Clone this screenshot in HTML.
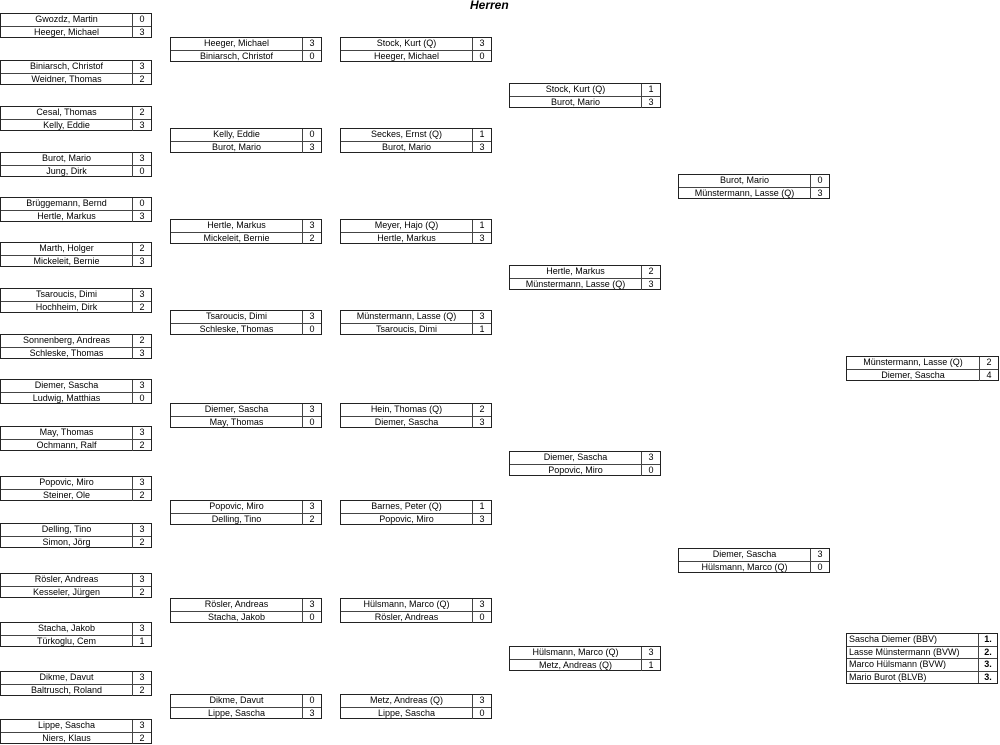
<!DOCTYPE html>
<html><head><meta charset="utf-8"><style>
body{margin:0;width:1000px;height:745px;background:#fff;position:relative;overflow:hidden;font-family:"Liberation Sans",Arial,sans-serif;font-size:9px;color:#000}
.b{position:absolute;border:1px solid #222;box-sizing:border-box;height:25px;background:#fff}
.r{height:11.5px;display:flex;line-height:11.5px}
.r+.r{border-top:1px solid #444}
.n{flex:1;text-align:center;border-right:1px solid #444;white-space:nowrap;overflow:hidden}
.s{width:18px;text-align:center}
.t{position:absolute;left:470px;top:-2px;font-weight:bold;font-style:italic;font-size:12px}
.f{position:absolute;left:846px;top:633px;width:152px;border:1px solid #222;box-sizing:border-box}
.f .n{text-align:left;padding-left:2px}
.f .s{font-weight:bold}
</style></head><body>
<div class="t">Herren</div>
<div id="c"></div>
<div class="f">
<div class="r"><div class="n">Sascha Diemer (BBV)</div><div class="s">1.</div></div>
<div class="r"><div class="n">Lasse Münstermann (BVW)</div><div class="s">2.</div></div>
<div class="r"><div class="n">Marco Hülsmann (BVW)</div><div class="s">3.</div></div>
<div class="r"><div class="n">Mario Burot (BLVB)</div><div class="s">3.</div></div>
</div>
<script>
const D=[
[0,13,"Gwozdz, Martin","0","Heeger, Michael","3"],
[0,60,"Biniarsch, Christof","3","Weidner, Thomas","2"],
[0,106,"Cesal, Thomas","2","Kelly, Eddie","3"],
[0,152,"Burot, Mario","3","Jung, Dirk","0"],
[0,197,"Brüggemann, Bernd","0","Hertle, Markus","3"],
[0,242,"Marth, Holger","2","Mickeleit, Bernie","3"],
[0,288,"Tsaroucis, Dimi","3","Hochheim, Dirk","2"],
[0,334,"Sonnenberg, Andreas","2","Schleske, Thomas","3"],
[0,379,"Diemer, Sascha","3","Ludwig, Matthias","0"],
[0,426,"May, Thomas","3","Ochmann, Ralf","2"],
[0,476,"Popovic, Miro","3","Steiner, Ole","2"],
[0,523,"Delling, Tino","3","Simon, Jörg","2"],
[0,573,"Rösler, Andreas","3","Kesseler, Jürgen","2"],
[0,622,"Stacha, Jakob","3","Türkoglu, Cem","1"],
[0,671,"Dikme, Davut","3","Baltrusch, Roland","2"],
[0,719,"Lippe, Sascha","3","Niers, Klaus","2"],
[170,37,"Heeger, Michael","3","Biniarsch, Christof","0"],
[170,128,"Kelly, Eddie","0","Burot, Mario","3"],
[170,219,"Hertle, Markus","3","Mickeleit, Bernie","2"],
[170,310,"Tsaroucis, Dimi","3","Schleske, Thomas","0"],
[170,403,"Diemer, Sascha","3","May, Thomas","0"],
[170,500,"Popovic, Miro","3","Delling, Tino","2"],
[170,598,"Rösler, Andreas","3","Stacha, Jakob","0"],
[170,694,"Dikme, Davut","0","Lippe, Sascha","3"],
[340,37,"Stock, Kurt (Q)","3","Heeger, Michael","0"],
[340,128,"Seckes, Ernst (Q)","1","Burot, Mario","3"],
[340,219,"Meyer, Hajo (Q)","1","Hertle, Markus","3"],
[340,310,"Münstermann, Lasse (Q)","3","Tsaroucis, Dimi","1"],
[340,403,"Hein, Thomas (Q)","2","Diemer, Sascha","3"],
[340,500,"Barnes, Peter (Q)","1","Popovic, Miro","3"],
[340,598,"Hülsmann, Marco (Q)","3","Rösler, Andreas","0"],
[340,694,"Metz, Andreas (Q)","3","Lippe, Sascha","0"],
[509,83,"Stock, Kurt (Q)","1","Burot, Mario","3"],
[509,265,"Hertle, Markus","2","Münstermann, Lasse (Q)","3"],
[509,451,"Diemer, Sascha","3","Popovic, Miro","0"],
[509,646,"Hülsmann, Marco (Q)","3","Metz, Andreas (Q)","1"],
[678,174,"Burot, Mario","0","Münstermann, Lasse (Q)","3"],
[678,548,"Diemer, Sascha","3","Hülsmann, Marco (Q)","0"],
[846,356,"Münstermann, Lasse (Q)","2","Diemer, Sascha","4"]];
let h="";
for(const d of D){h+=`<div class="b" style="left:${d[0]}px;top:${d[1]}px;width:${d[0]==846?153:152}px"><div class="r"><div class="n">${d[2]}</div><div class="s">${d[3]}</div></div><div class="r"><div class="n">${d[4]}</div><div class="s">${d[5]}</div></div></div>`}
document.getElementById("c").innerHTML=h;
</script>
</body></html>
